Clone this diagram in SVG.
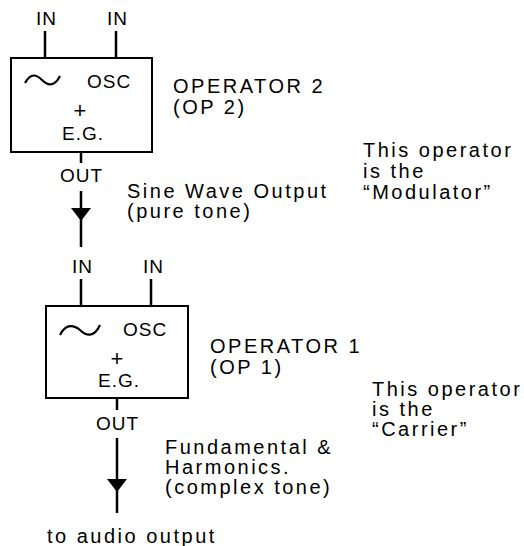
<svg xmlns="http://www.w3.org/2000/svg" width="524" height="546" viewBox="0 0 524 546">
<style>
text{font-family:"Liberation Sans",Arial,sans-serif;font-size:20px;fill:#000;letter-spacing:2.5px}
.s{font-size:19px;letter-spacing:1px}
.p{font-size:22px;text-anchor:middle;letter-spacing:0}
.box{fill:#fff;stroke:#000;stroke-width:2}
.ln{stroke:#000;stroke-width:2.5;fill:none}
.wave{stroke:#000;stroke-width:2.2;fill:none}
</style>
<rect width="524" height="546" fill="#fff"/>
<g id="connectors">
<line class="ln" x1="45" y1="31" x2="45" y2="58"/>
<line class="ln" x1="116" y1="31" x2="116" y2="58"/>
<line class="ln" x1="81" y1="152" x2="81" y2="163"/>
<line class="ln" x1="81" y1="191" x2="81" y2="247"/>
<polygon points="71,208 91,208 81,221" fill="#000"/>
<line class="ln" x1="81" y1="279" x2="81" y2="306"/>
<line class="ln" x1="151" y1="279" x2="151" y2="306"/>
<line class="ln" x1="117" y1="398" x2="117" y2="410"/>
<line class="ln" x1="117" y1="438" x2="117" y2="513"/>
<polygon points="107,479 127,479 117,492" fill="#000"/>
</g>
<g id="op2">
<rect class="box" x="11" y="58" width="141" height="94"/>
<path class="wave" d="M25,83 C31,72 37,75 42,80 C47,85 54,88 60,76"/>
<text class="s" x="87" y="88">OSC</text>
<text class="p" x="80" y="118">+</text>
<text class="s" x="62" y="140" letter-spacing="0">E.G.</text>
<text class="s" x="36" y="25">IN</text>
<text class="s" x="107" y="25">IN</text>
<text class="s" x="60" y="182" letter-spacing="0">OUT</text>
<text x="173" y="93">OPERATOR 2</text>
<text x="173" y="114">(OP 2)</text>
</g>
<g id="op1">
<rect class="box" x="46" y="306" width="142" height="92"/>
<path class="wave" d="M60,335 C66,323 74,325 80,330 C86,336 94,338 100,325"/>
<text class="s" x="123" y="336">OSC</text>
<text class="p" x="117" y="366">+</text>
<text class="s" x="98" y="387" letter-spacing="0">E.G.</text>
<text class="s" x="72" y="273">IN</text>
<text class="s" x="143" y="273">IN</text>
<text class="s" x="96" y="430" letter-spacing="0">OUT</text>
<text x="210" y="353">OPERATOR 1</text>
<text x="210" y="374">(OP 1)</text>
</g>
<g id="labels">
<text x="363" y="157">This operator</text>
<text x="363" y="178">is the</text>
<text x="363" y="199">“Modulator”</text>
<text x="127" y="198">Sine Wave Output</text>
<text x="127" y="218">(pure tone)</text>
<text x="372" y="396">This operator</text>
<text x="372" y="416">is the</text>
<text x="372" y="436">“Carrier”</text>
<text x="165" y="454">Fundamental &amp;</text>
<text x="165" y="474">Harmonics.</text>
<text x="165" y="494">(complex tone)</text>
<text x="47" y="543">to audio output</text>
</g>
</svg>
